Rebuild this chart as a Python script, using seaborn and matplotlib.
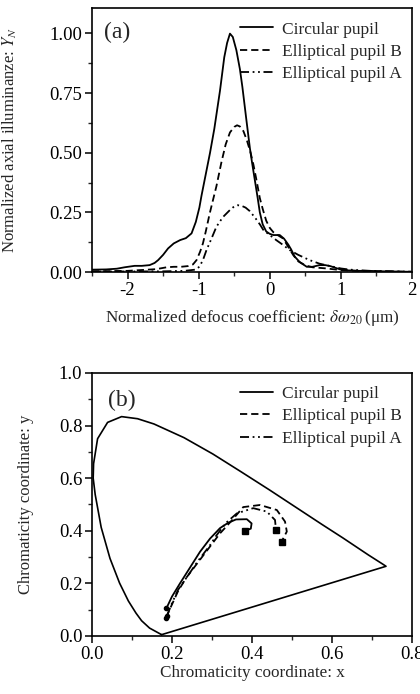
import numpy as np
import pandas as pd
import seaborn as sns
import matplotlib.pyplot as plt
from matplotlib.ticker import MultipleLocator

# --- (a) axial illuminance vs defocus ---
circ_x = [-2.5, -2.3, -2.15, -2.04, -1.9, -1.8, -1.69, -1.62, -1.57, -1.5, -1.43, -1.35,
          -1.26, -1.18, -1.1, -1.04, -0.99, -0.96, -0.9, -0.84, -0.78, -0.7, -0.64,
          -0.6, -0.56, -0.52, -0.47, -0.42, -0.385, -0.33, -0.28, -0.25, -0.21, -0.17,
          -0.14, -0.1, -0.05, 0.0, 0.05, 0.1, 0.14, 0.2, 0.26, 0.3, 0.35, 0.42, 0.52,
          0.6, 0.7, 0.78, 0.85, 0.92, 0.99, 1.1, 1.25, 1.4, 1.6, 2.0]
circ_y = [0.01, 0.011, 0.014, 0.02, 0.026, 0.026, 0.029, 0.038, 0.05, 0.072, 0.099, 0.12,
          0.134, 0.142, 0.162, 0.21, 0.27, 0.32, 0.41, 0.5, 0.6, 0.76, 0.9, 0.96, 0.999,
          0.985, 0.93, 0.85, 0.775, 0.64, 0.52, 0.46, 0.385, 0.31, 0.25, 0.2, 0.17, 0.16,
          0.155, 0.155, 0.155, 0.14, 0.115, 0.095, 0.065, 0.042, 0.022, 0.022, 0.029,
          0.029, 0.025, 0.018, 0.011, 0.007, 0.005, 0.005, 0.003, 0.001]

ellB_x = [-2.5, -2.0, -1.6, -1.45, -1.35, -1.25, -1.15, -1.08, -1.03, -0.98, -0.94,
          -0.9, -0.845, -0.8, -0.75, -0.68, -0.62, -0.56, -0.5, -0.46, -0.42, -0.37,
          -0.32, -0.27, -0.23, -0.19, -0.14, -0.1, -0.05, 0.0, 0.05, 0.1, 0.19, 0.25,
          0.33, 0.4, 0.5, 0.6, 0.8, 1.0, 1.3, 2.0]
ellB_y = [0.003, 0.005, 0.012, 0.02, 0.022, 0.022, 0.025, 0.032, 0.05, 0.085, 0.12,
          0.17, 0.245, 0.3, 0.36, 0.46, 0.535, 0.585, 0.608, 0.615, 0.61, 0.59, 0.55,
          0.5, 0.45, 0.39, 0.31, 0.265, 0.215, 0.185, 0.167, 0.157, 0.14, 0.11, 0.071,
          0.045, 0.028, 0.02, 0.015, 0.008, 0.004, 0.001]

ellA_x = [-2.5, -1.5, -1.2, -1.05, -0.99, -0.94, -0.89, -0.82, -0.75, -0.66, -0.56,
          -0.5, -0.45, -0.4, -0.34, -0.28, -0.2, -0.14, -0.09, 0.0, 0.09, 0.18, 0.28,
          0.4, 0.56, 0.7, 0.85, 1.0, 1.13, 1.4, 2.0]
ellA_y = [0.002, 0.003, 0.005, 0.01, 0.022, 0.05, 0.092, 0.14, 0.19, 0.23, 0.26,
          0.275, 0.28, 0.278, 0.27, 0.255, 0.225, 0.2, 0.176, 0.155, 0.134, 0.115,
          0.092, 0.072, 0.05, 0.035, 0.025, 0.015, 0.01, 0.005, 0.001]

# --- (b) chromaticity diagram ---
locus_x = [0.174, 0.144, 0.124, 0.110, 0.091, 0.069, 0.045, 0.023, 0.008, 0.003,
           0.004, 0.014, 0.039, 0.074, 0.114, 0.155, 0.230, 0.302, 0.373, 0.444, 0.512,
           0.575, 0.627, 0.691, 0.726, 0.735, 0.174]
locus_y = [0.005, 0.030, 0.058, 0.087, 0.133, 0.201, 0.295, 0.413, 0.538, 0.6,
           0.655, 0.750, 0.812, 0.834, 0.826, 0.806, 0.754, 0.692, 0.624, 0.555, 0.487,
           0.424, 0.373, 0.308, 0.274, 0.265, 0.005]

trC_x = [0.186, 0.2, 0.22, 0.245, 0.27, 0.295, 0.32, 0.34, 0.36, 0.387, 0.399, 0.397, 0.3825]
trC_y = [0.105, 0.15, 0.2, 0.26, 0.32, 0.37, 0.41, 0.43, 0.443, 0.444, 0.428, 0.408, 0.4]
trB_x = [0.185, 0.2, 0.215, 0.235, 0.26, 0.29, 0.32, 0.35, 0.378, 0.42, 0.462, 0.4825, 0.487, 0.474]
trB_y = [0.07, 0.12, 0.17, 0.22, 0.27, 0.33, 0.39, 0.44, 0.49, 0.498, 0.479, 0.435, 0.397, 0.359]
trA_x = [0.187, 0.2, 0.215, 0.24, 0.265, 0.295, 0.31, 0.335, 0.362, 0.403, 0.437, 0.4575, 0.46]
trA_y = [0.075, 0.125, 0.175, 0.23, 0.285, 0.345, 0.38, 0.43, 0.466, 0.486, 0.473, 0.441, 0.403]

LABELS = ['Circular pupil', 'Elliptical pupil B', 'Elliptical pupil A']
STYLES = ['-', (0, (4, 2.2)), (0, (5, 2, 1, 2, 1, 2))]

sns.set_style('ticks')
plt.rcParams['font.family'] = ['Liberation Serif', 'DejaVu Serif']
plt.rcParams['mathtext.fontset'] = 'stix'
plt.rcParams['xtick.direction'] = 'out'
plt.rcParams['ytick.direction'] = 'out'

fig = plt.figure(figsize=(4.2, 6.94), dpi=100)
ax1 = fig.add_axes([0.219, 0.608, 0.762, 0.380])
ax2 = fig.add_axes([0.219, 0.0836, 0.762, 0.379])

for xs, ys, lab, ls in zip([circ_x, ellB_x, ellA_x], [circ_y, ellB_y, ellA_y], LABELS, STYLES):
    sns.lineplot(x=xs, y=ys, ax=ax1, color='black', linestyle=ls, linewidth=1.3,
                 label=lab, sort=False, estimator=None)

sns.lineplot(x=locus_x, y=locus_y, ax=ax2, color='black', linewidth=1.2,
             sort=False, estimator=None, legend=False)
for xs, ys, lab, ls in zip([trC_x, trB_x, trA_x], [trC_y, trB_y, trA_y], LABELS, STYLES):
    sns.lineplot(x=xs, y=ys, ax=ax2, color='black', linestyle=ls, linewidth=1.3,
                 label=lab, sort=False, estimator=None)
    ax2.plot(xs[-1], ys[-1], marker='s', color='black', markersize=5, linestyle='none')
    ax2.plot(xs[0], ys[0], marker='o', color='black', markersize=3, linestyle='none')

ax1.set_xlim(-2.5, 2)
ax1.set_ylim(0, 1.105)
ax1.xaxis.set_minor_locator(MultipleLocator(0.5))
ax1.yaxis.set_minor_locator(MultipleLocator(0.125))
ax1.set_yticks([0, 0.25, 0.5, 0.75, 1.0])
ax1.set_yticklabels(['0.00', '0.25', '0.50', '0.75', '1.00'])
ax1.set_xticks([-2, -1, 0, 1, 2])
ax1.set_xticklabels(['-2', '-1', '0', '1', '2'])
ax1.set_xlabel(r'Normalized defocus coefficient: $\delta\omega_{20}\,$(μm)', fontsize=12.3)
ax1.set_ylabel(r'Normalized axial illuminanze: $Y_N$', fontsize=12)
ax1.xaxis.set_label_coords(0.5, -0.135)
ax1.yaxis.set_label_coords(-0.228, 0.5)
ax1.text(0.08, 0.91, '(a)', transform=ax1.transAxes, fontsize=17, va='center', ha='center')

ax2.set_xlim(0, 0.8)
ax2.set_ylim(0, 1.0)
ax2.xaxis.set_minor_locator(MultipleLocator(0.1))
ax2.yaxis.set_minor_locator(MultipleLocator(0.1))
ax2.set_xticks([0, 0.2, 0.4, 0.6, 0.8])
ax2.set_xticklabels(['0.0', '0.2', '0.4', '0.6', '0.8'])
ax2.set_yticks([0, 0.2, 0.4, 0.6, 0.8, 1.0])
ax2.set_yticklabels(['0.0', '0.2', '0.4', '0.6', '0.8', '1.0'])
ax2.set_xlabel('Chromaticity coordinate: x', fontsize=12.3)
ax2.set_ylabel('Chromaticity coordinate: y', fontsize=12)
ax2.xaxis.set_label_coords(0.5, -0.11)
ax2.yaxis.set_label_coords(-0.18, 0.5)
ax2.text(0.093, 0.897, '(b)', transform=ax2.transAxes, fontsize=17, va='center', ha='center')

for ax in (ax1, ax2):
    for s in ax.spines.values():
        s.set_visible(True)
        s.set_linewidth(1.2)
        s.set_color('black')
    ax.tick_params(which='major', length=5, width=1.1, labelsize=13.5, colors='black', pad=2)
    ax.tick_params(which='minor', length=3, width=1.0)
    ax.tick_params(top=False, right=False)
    ax.legend(loc='upper right', bbox_to_anchor=(1.01, 1.0), frameon=False, fontsize=12.5,
              handlelength=1.9, handletextpad=0.55, labelspacing=0.35, borderaxespad=0.35)

fig.savefig('out.png', dpi=100)
